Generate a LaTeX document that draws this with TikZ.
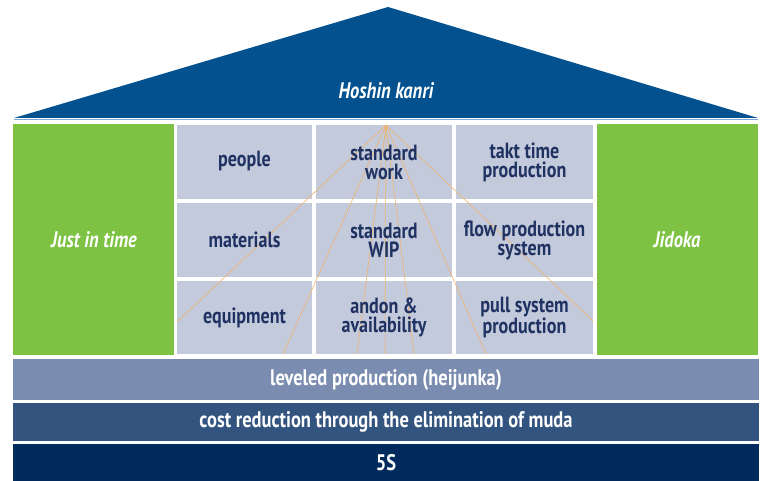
\documentclass[tikz,border=0pt]{standalone}
\usepackage{fontspec}
\setmainfont{PT Sans}[FakeStretch=0.82]
\definecolor{roof}{HTML}{03528F}
\definecolor{roofline}{HTML}{7FA8D6}
\definecolor{pillar}{HTML}{7DC243}
\definecolor{cellc}{HTML}{C3CADC}
\definecolor{navy}{HTML}{1F3262}
\definecolor{bandA}{HTML}{7A8CB0}
\definecolor{bandB}{HTML}{33547F}
\definecolor{bandC}{HTML}{012B5C}
\definecolor{ray}{HTML}{F2B36B}
\begin{document}
\begin{tikzpicture}[x=1pt,y=-1pt,
  celltxt/.style={text=navy,font=\bfseries\fontsize{22}{19}\selectfont,align=center,inner sep=0pt},
  whitetxt/.style={text=white,font=\bfseries\fontsize{22.5}{19}\selectfont,align=center,inner sep=0pt},
  pillartxt/.style={text=white,font=\bfseries\itshape\fontsize{22.5}{19}\selectfont,align=center,inner sep=0pt},
  raystyle/.style={draw=ray,line width=0.6pt}]
\useasboundingbox (0,0) rectangle (763,481);
% roof
\fill[roof] (14,118) coordinate (rl) -- (388,7) coordinate (top) -- (758,118) coordinate (rr) -- cycle;
\draw[roofline,line width=1.2pt] (14,119.5) -- (758,119.5);
\node[pillartxt] (hk) at (386,91) {Hoshin kanri};
% pillars
\fill[pillar] (13,124) rectangle (174,355);
\fill[pillar] (597,124) rectangle (758,355);
\node[pillartxt] (jit) at (94,240) {Just in time};
\node[pillartxt] (jid) at (677,240) {Jidoka};
% cells
\foreach \xa/\xb [count=\i] in {177/312,316/452,456/593}{
  \foreach \ya/\yb [count=\j] in {125/199,203/277,281/354}{
    \fill[cellc] (\xa,\ya) rectangle (\xb,\yb);
    \coordinate (c\i\j) at ({(\xa+\xb)/2},{(\ya+\yb)/2});
  }
}
% rays
\coordinate (apex) at (386,125);
\coordinate (e1) at (177,322);
\coordinate (e2) at (283,354);
\coordinate (e3) at (357,354);
\coordinate (e4) at (385,354);
\coordinate (e5) at (414,354);
\coordinate (e6) at (486,354);
\coordinate (e7) at (593,321);
\foreach \e in {e1,e2,e3,e4,e5,e6,e7}{\draw[raystyle] (apex) -- (\e);}
% cell labels
\node[celltxt] (n11) at ([yshift=1pt]c11) {people};
\node[celltxt] (n12) at (c12) {materials};
\node[celltxt] (n13) at (c13) {equipment};
\node[celltxt] (n21) at (c21) {standard\\work};
\node[celltxt] (n22) at (c22) {standard\\WIP};
\node[celltxt] (n23) at (c23) {andon \&\\availability};
\node[celltxt] (n31) at (c31) {takt time\\production};
\node[celltxt] (n32) at (c32) {flow production\\system};
\node[celltxt] (n33) at (c33) {pull system\\production};
% bands
\fill[bandA] (13,359) rectangle (759,400);
\fill[bandB] (13,403) rectangle (759,441);
\fill[bandC] (13,444) rectangle (759,481);
\node[whitetxt] (b1) at (386,380) {leveled production (heijunka)};
\node[whitetxt] (b2) at (386,422) {cost reduction through the elimination of muda};
\node[whitetxt] (b3) at (386,463) {5S};
\end{tikzpicture}
\end{document}
